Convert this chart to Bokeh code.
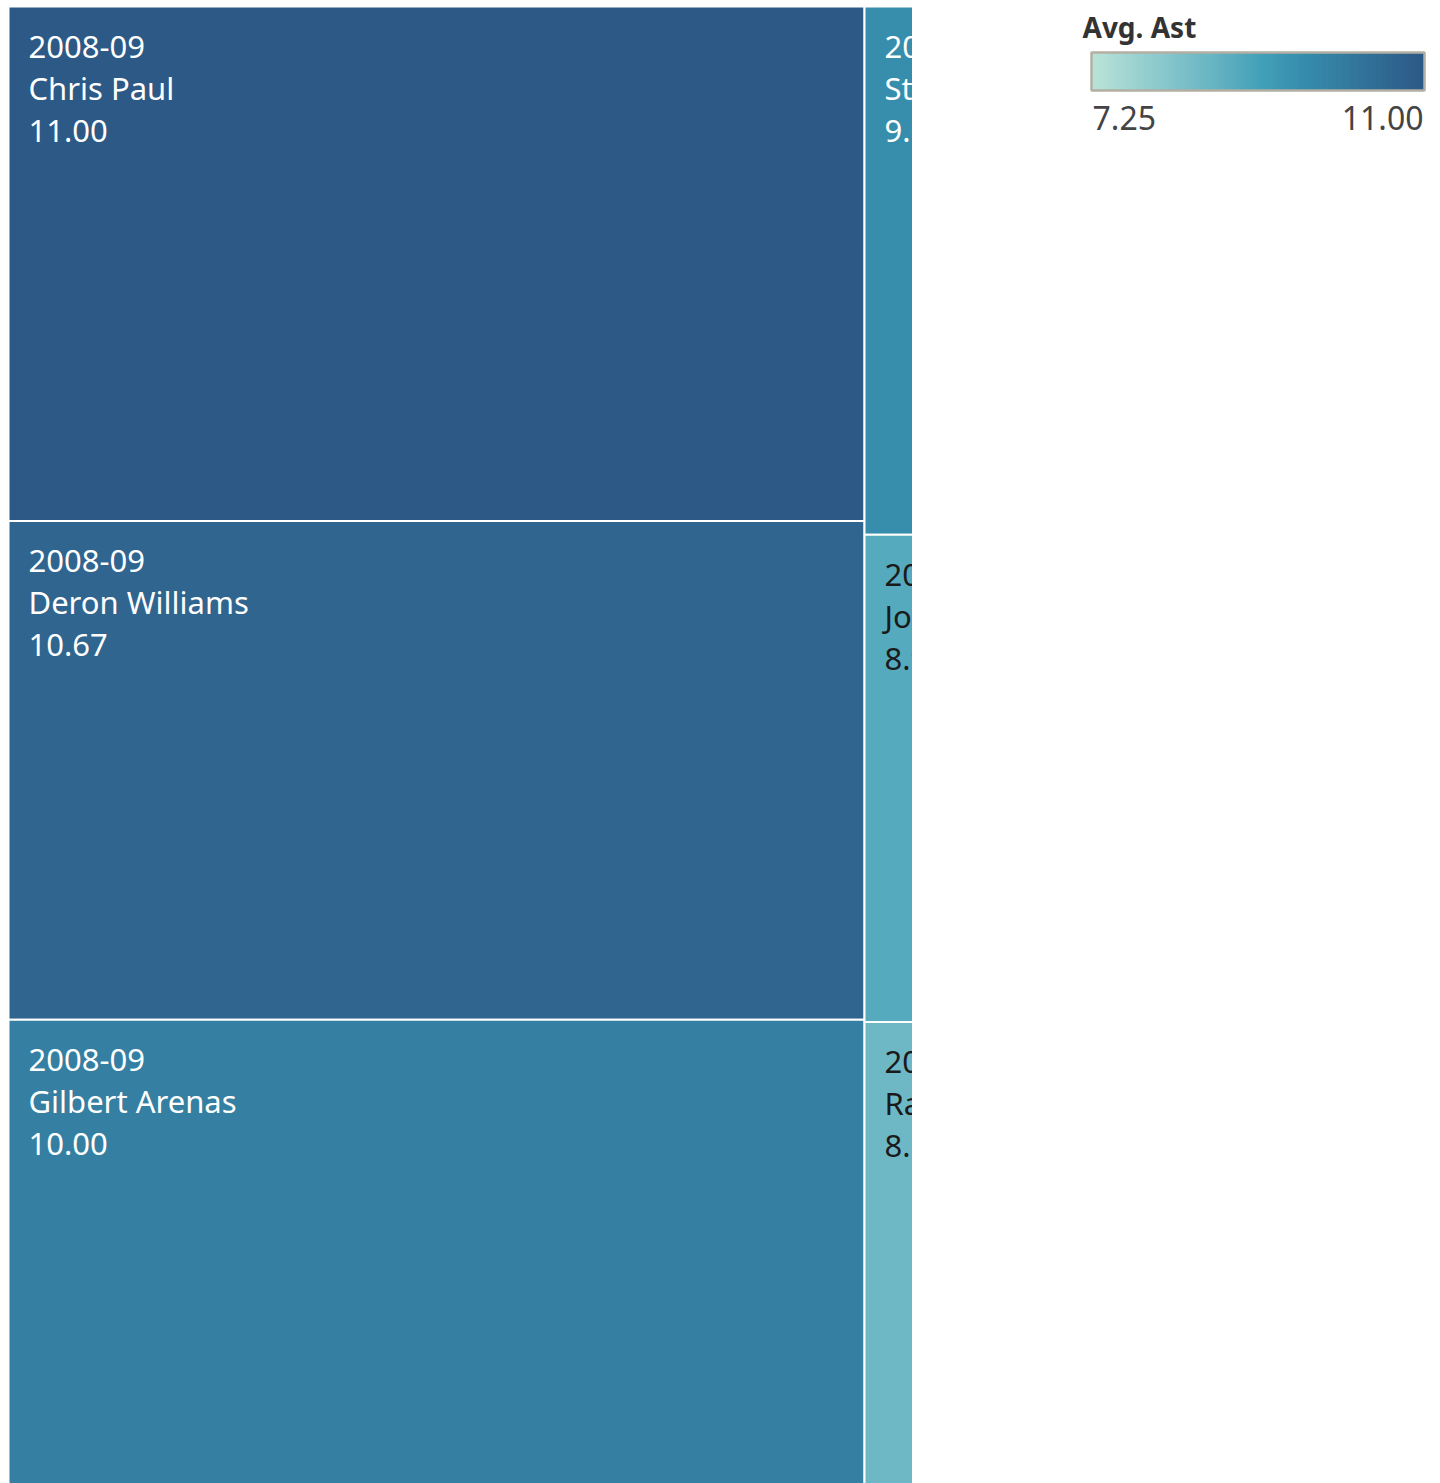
import numpy as np
from bokeh.plotting import figure
from bokeh.layouts import row
from bokeh.models import ColumnDataSource, LinearColorMapper, Range1d
from bokeh.transform import transform
from bokeh.core.properties import value
from bokeh.embed import file_html
from bokeh.resources import INLINE

# ---------------- data ----------------
seasons = ["2008-09", "2008-09", "2008-09", "2008-09", "2008-09", "2008-09"]
players = ["Chris Paul", "Deron Williams", "Gilbert Arenas", "Steve Nash", "Jose Calderon", "Rajon Rondo"]
avg_ast = [11.00, 10.67, 10.00, 9.65, 8.90, 8.50]
column_of = [0, 0, 0, 1, 1, 1]
legend_low = 7.25
legend_high = 11.00
legend_title = "Avg. Ast"

# Tableau Blue-Teal palette stops
stops = ["#bce4d8", "#9dd3d1", "#81c3cb", "#65b3c2", "#45a2b9", "#368fae", "#347da0", "#306a93", "#2c5985"]


def hex2rgb(h):
    return np.array([int(h[i:i + 2], 16) for i in (1, 3, 5)], dtype=float)


stop_rgb = np.array([hex2rgb(c) for c in stops])
stop_pos = np.linspace(0, 1, len(stops))
N = 256
palette = []
for t in np.linspace(0, 1, N):
    rgb = [np.interp(t, stop_pos, stop_rgb[:, k]) for k in range(3)]
    palette.append("#%02x%02x%02x" % tuple(int(round(c)) for c in rgb))

mapper = LinearColorMapper(palette=palette, low=legend_low, high=legend_high)

# ---------------- treemap layout (page pixel coordinates) ----------------
TOP = 6.0
LEFT = 8.0
TM_HEIGHT = 1481.0
WIDTH_PER_UNIT = 856.0 / 31.67

x0s, x1s, y0s, y1s = [], [], [], []
xcur = LEFT
for c in sorted(set(column_of)):
    idx = [i for i, col in enumerate(column_of) if col == c]
    s = sum(avg_ast[i] for i in idx)
    w = s * WIDTH_PER_UNIT
    ycur = TOP
    for i in idx:
        h = TM_HEIGHT * avg_ast[i] / s
        x0s.append(xcur); x1s.append(xcur + w)
        y0s.append(ycur); y1s.append(ycur + h)
        ycur += h
    xcur += w

text_colors = ["white" if v >= 9.2 else "#1a1a1a" for v in avg_ast]

src = ColumnDataSource(dict(
    left=x0s, right=x1s, top=y0s, bottom=y1s, v=avg_ast,
    season=seasons, player=players,
    val=["%.2f" % v for v in avg_ast],
    tx=[x + 20 for x in x0s],
    ty1=[y + 40 for y in y0s],
    ty2=[y + 81 for y in y0s],
    ty3=[y + 124 for y in y0s],
    tc=text_colors,
))

FONT = "Noto Sans"
FS = "31px"

p = figure(width=912, height=1483, output_backend="svg", toolbar_location=None,
           x_range=Range1d(0, 912), y_range=Range1d(1483, 0),
           x_axis_location=None, y_axis_location=None, min_border=0)
p.grid.visible = False
p.outline_line_color = None
p.background_fill_color = "white"

p.quad(left="left", right="right", top="top", bottom="bottom", source=src,
       fill_color=transform("v", mapper), line_color="white", line_width=2)
for fld, ycol in (("season", "ty1"), ("player", "ty2"), ("val", "ty3")):
    p.text(x="tx", y=ycol, text=fld, source=src, text_color="tc",
           text_font=value(FONT), text_font_size=FS,
           text_baseline="alphabetic", text_align="left")

# ---------------- legend ----------------
q = figure(width=528, height=1483, output_backend="svg", toolbar_location=None,
           x_range=Range1d(912, 1440), y_range=Range1d(1483, 0),
           x_axis_location=None, y_axis_location=None, min_border=0)
q.grid.visible = False
q.outline_line_color = None

BAR_L, BAR_R, BAR_T, BAR_B = 1091.0, 1424.0, 52.0, 90.0
nsteps = 120
vals = np.linspace(legend_low, legend_high, nsteps + 1)
edges = BAR_L + (vals - legend_low) / (legend_high - legend_low) * (BAR_R - BAR_L)
gsrc = ColumnDataSource(dict(left=edges[:-1], right=edges[1:],
                             v=(vals[:-1] + vals[1:]) / 2))
q.quad(left="left", right="right", top=BAR_T, bottom=BAR_B, source=gsrc,
       fill_color=transform("v", mapper), line_color=transform("v", mapper), line_width=1.2)
q.quad(left=[BAR_L], right=[BAR_R], top=[BAR_T], bottom=[BAR_B],
       fill_color=None, line_color="#b3afa3", line_width=2.5)

q.text(x=[1082], y=[26], text=[legend_title], text_color="#333333",
       text_font=value(FONT), text_font_size="28px", text_font_style="bold",
       text_baseline="alphabetic", text_align="left")
q.text(x=[BAR_L + 1], y=[117], text=["%.2f" % legend_low], text_color="#444444",
       text_font=value(FONT), text_font_size="32px",
       text_baseline="alphabetic", text_align="left")
q.text(x=[BAR_R - 1], y=[117], text=["%.2f" % legend_high], text_color="#444444",
       text_font=value(FONT), text_font_size="32px",
       text_baseline="alphabetic", text_align="right")

layout = row(p, q, spacing=0)
open("out.html", "w").write(file_html(layout, INLINE))
